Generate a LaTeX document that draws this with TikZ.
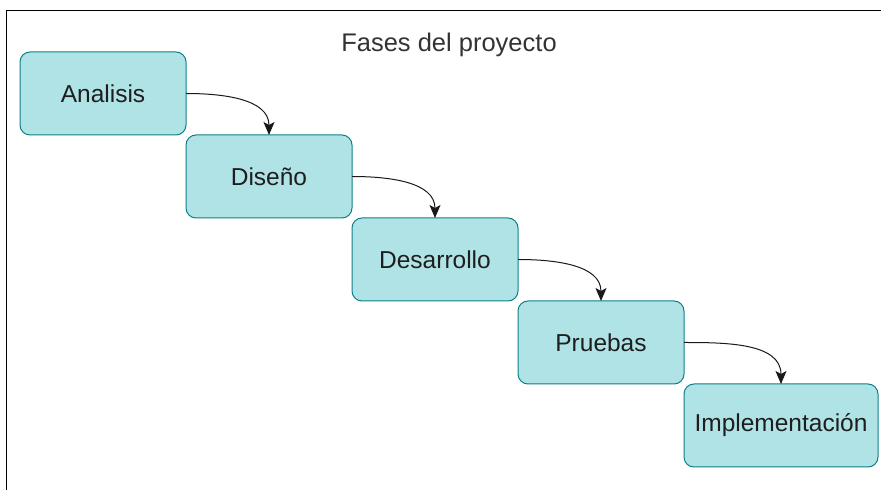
\documentclass[tikz,border=0pt]{standalone}
\usepackage{fontspec}
\setmainfont{Liberation Sans}
\usetikzlibrary{positioning,arrows.meta}
\definecolor{fasefill}{HTML}{B0E3E6}
\definecolor{faseline}{HTML}{0E8088}
\definecolor{fasetext}{HTML}{1E1E1E}
\begin{document}
\begin{tikzpicture}[x=1pt, y=1pt,
    fase/.style={draw=faseline, fill=fasefill, line width=1pt, rounded corners=10pt,
      minimum width=166pt, minimum height=83pt, inner sep=0pt, outer sep=0pt,
      text=fasetext, font=\fontsize{24.5}{28}\selectfont},
    paso/.style={-{Stealth[length=13pt,width=11pt,inset=3pt]}, line width=1pt, draw=black!90}]
  \useasboundingbox (0,0) rectangle (881,490);
  % marco
  \draw[line width=1.5pt] (6.7,0) -- (6.7,479.3) -- (881,479.3);
  \node[text=black!80, font=\fontsize{25.5}{29}\selectfont] (titulo) at (449,445) {Fases del proyecto};
  % fases
  \node[fase] (analisis) at (103,396.5) {Analisis};
  \node[fase, below right=0pt and 0pt of analisis] (diseno) {Diseño};
  \node[fase, below right=0pt and 0pt of diseno] (desarrollo) {Desarrollo};
  \node[fase, below right=0pt and 0pt of desarrollo] (pruebas) {Pruebas};
  \node[fase, minimum width=194pt, below right=0pt and 0pt of pruebas] (implementacion) {Implementación};
  % flechas
  \draw[paso] (analisis.east) to[out=0, in=90] (diseno.north);
  \draw[paso] (diseno.east) to[out=0, in=90] (desarrollo.north);
  \draw[paso] (desarrollo.east) to[out=0, in=90] (pruebas.north);
  \draw[paso] (pruebas.east) to[out=0, in=90] (implementacion.north);
\end{tikzpicture}
\end{document}
